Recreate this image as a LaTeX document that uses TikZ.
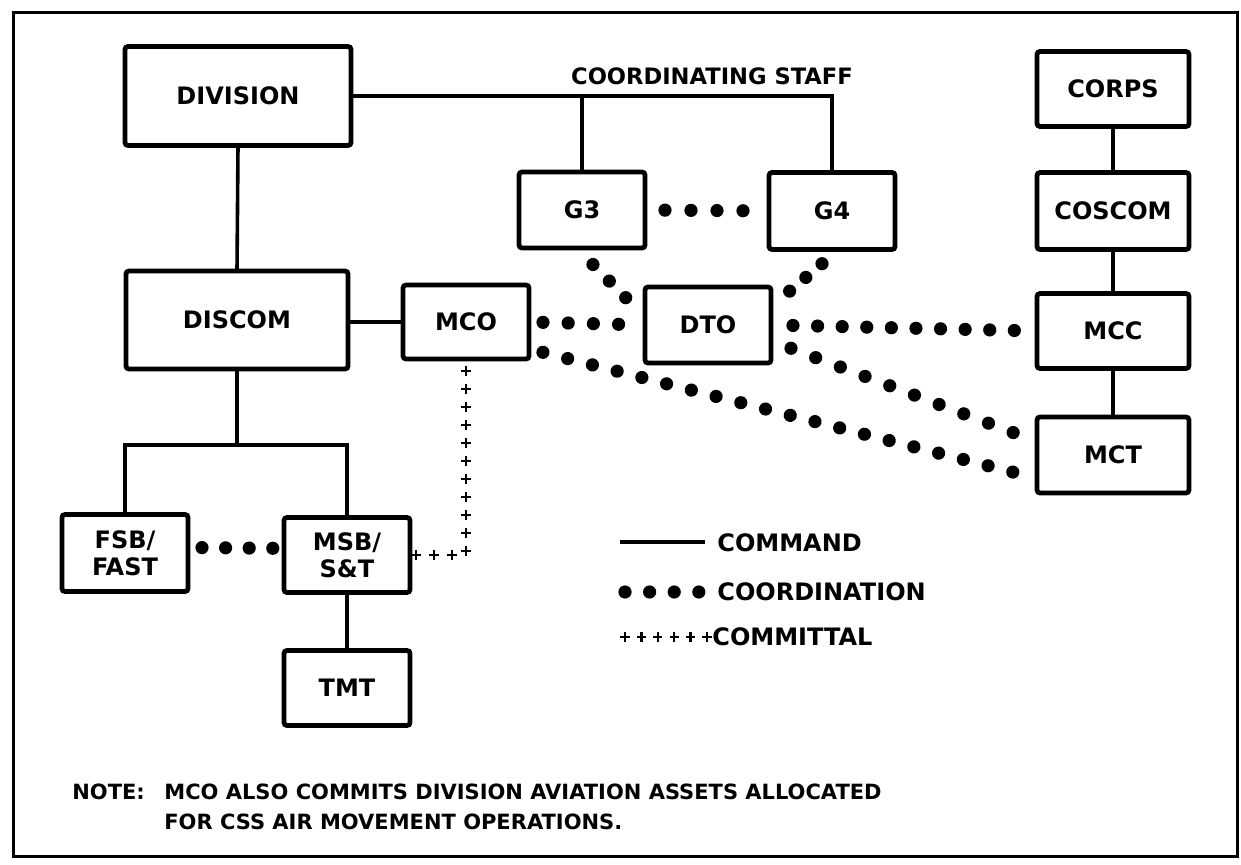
\documentclass[tikz,border=0pt]{standalone}
\usepackage{fontspec}
\setmainfont{DejaVu Sans}
\usetikzlibrary{decorations.markings}

\begin{document}
\begin{tikzpicture}[x=0.5pt, y=-0.5pt,
    box/.style={draw, line width=2.4pt, rounded corners=1.5pt, inner sep=0pt, outer sep=0pt,
                minimum width=63pt, minimum height=38pt, align=center,
                font=\bfseries\fontsize{12}{13.5}\selectfont},
    wide/.style={box, minimum width=76pt},
    cmd/.style={line width=1.8pt},
    coordline/.style={decorate, decoration={markings,
        mark=between positions #1 with {\fill (0,0) circle (3.3pt);}}},
    commitline/.style={decorate, decoration={markings,
        mark=between positions #1 with {\draw[line width=1.2pt] (-2.3pt,0) -- (2.3pt,0) (0,-2.3pt) -- (0,2.3pt);}}},
    keytext/.style={anchor=west, inner sep=0pt, font=\bfseries\fontsize{12}{14}\selectfont}]
    \useasboundingbox (0,0) rectangle (1241,865);
    \draw[line width=1.5pt] (13,13) rectangle (1237,856);

    \node[box, minimum width=113pt, minimum height=49.5pt] (division) at (238,96) {DIVISION};
    \node[box, minimum width=111pt, minimum height=49pt] (discom) at (237,320) {DISCOM};
    \node[box, minimum height=37pt] (mco) at (466,322) {MCO};
    \node[box] (g3) at (582,210) {G3};
    \node[box, minimum height=38.5pt] (g4) at (832,211) {G4};
    \node[box] (dto) at (708,325) {DTO};
    \node[font=\bfseries\fontsize{11.3}{13}\selectfont] (staff) at (712,76) {COORDINATING STAFF};
    \node[wide, minimum height=37.5pt] (corps) at (1113,89) {CORPS};
    \node[wide, minimum height=38.5pt] (coscom) at (1113,211) {COSCOM};
    \node[wide, minimum height=37.5pt] (mcc) at (1113,331) {MCC};
    \node[wide] (mct) at (1113,455) {MCT};
    \node[box, minimum height=38.5pt] (fsb) at (125,553) {FSB/\\FAST};
    \node[box, minimum height=37.5pt] (msb) at (347,555) {MSB/\\S\&T};
    \node[box, minimum height=37.5pt] (tmt) at (347,688) {TMT};
    \coordinate (fork) at (237,445);

    % command
    \draw[cmd] (division.east) -| (g4.north);
    \draw[cmd] (g3.north) -- (g3.north |- division.east);
    \draw[cmd] (division.south) -- (discom.north);
    \draw[cmd] (discom.east |- mco.west) -- (mco.west);
    \draw[cmd] (discom.south) -- (fork);
    \draw[cmd] (fsb.north) |- (fork) -| (msb.north);
    \draw[cmd] (msb.south) -- (tmt.north);
    \draw[cmd] (corps.south) -- (coscom.north);
    \draw[cmd] (coscom.south) -- (mcc.north);
    \draw[cmd] (mcc.south) -- (mct.north);

    % coordination
    \path[coordline={10pt and -12.5pt step 13pt}] (g3.east) -- (g4.west);
    \path[coordline={11.6pt and -13pt step 11.65pt}] (g3.-98) -- (dto.173);
    \path[coordline={11pt and -11pt step 10.6pt}] (g4.-80) -- (dto.16);
    \path[coordline={7pt and -12.5pt step 12.6pt}] (mco.east) -- (dto.west);
    \path[coordline={11pt and -10pt step 12.3pt}] (dto.east) -- (mcc.west);
    \path[coordline={7.2pt and -11.5pt step 12.76pt}] (mco.-23) -- (mct.197);
    \path[coordline={10.7pt and -12.3pt step 13.2pt}] (dto.-14) -- (mct.170);
    \path[coordline={7pt and -4.5pt step 11.8pt}] (fsb.5) -- (msb.174);

    % committal
    \path[commitline={6pt and -0.5pt step 9pt}] (mco.south) |- (msb.east);

    % key
    \coordinate (k1) at (620,542);
    \node[keytext] (kcmd) at (717,543) {COMMAND};
    \draw[cmd, shorten >=6pt] (k1) -- (k1 -| kcmd.west);
    \coordinate (k2) at (625,592);
    \node[keytext] (kcoord) at (717,592) {COORDINATION};
    \path[coordline={0pt and -8pt step 12.3pt}] (k2) -- (k2 -| kcoord.west);
    \coordinate (k3) at (625,637);
    \node[keytext] (kcommit) at (712,637) {COMMITTAL};
    \path[commitline={0pt and -2pt step 8.2pt}] (k3) -- (k3 -| kcommit.west);

    \node[anchor=west, inner sep=0pt, align=left, font=\bfseries\fontsize{10.5}{15}\selectfont] (note) at (72,807)
      {\makebox[46pt][l]{NOTE:}MCO ALSO COMMITS DIVISION AVIATION ASSETS ALLOCATED\\
       \hspace*{46pt}FOR CSS AIR MOVEMENT OPERATIONS.};
\end{tikzpicture}
\end{document}
